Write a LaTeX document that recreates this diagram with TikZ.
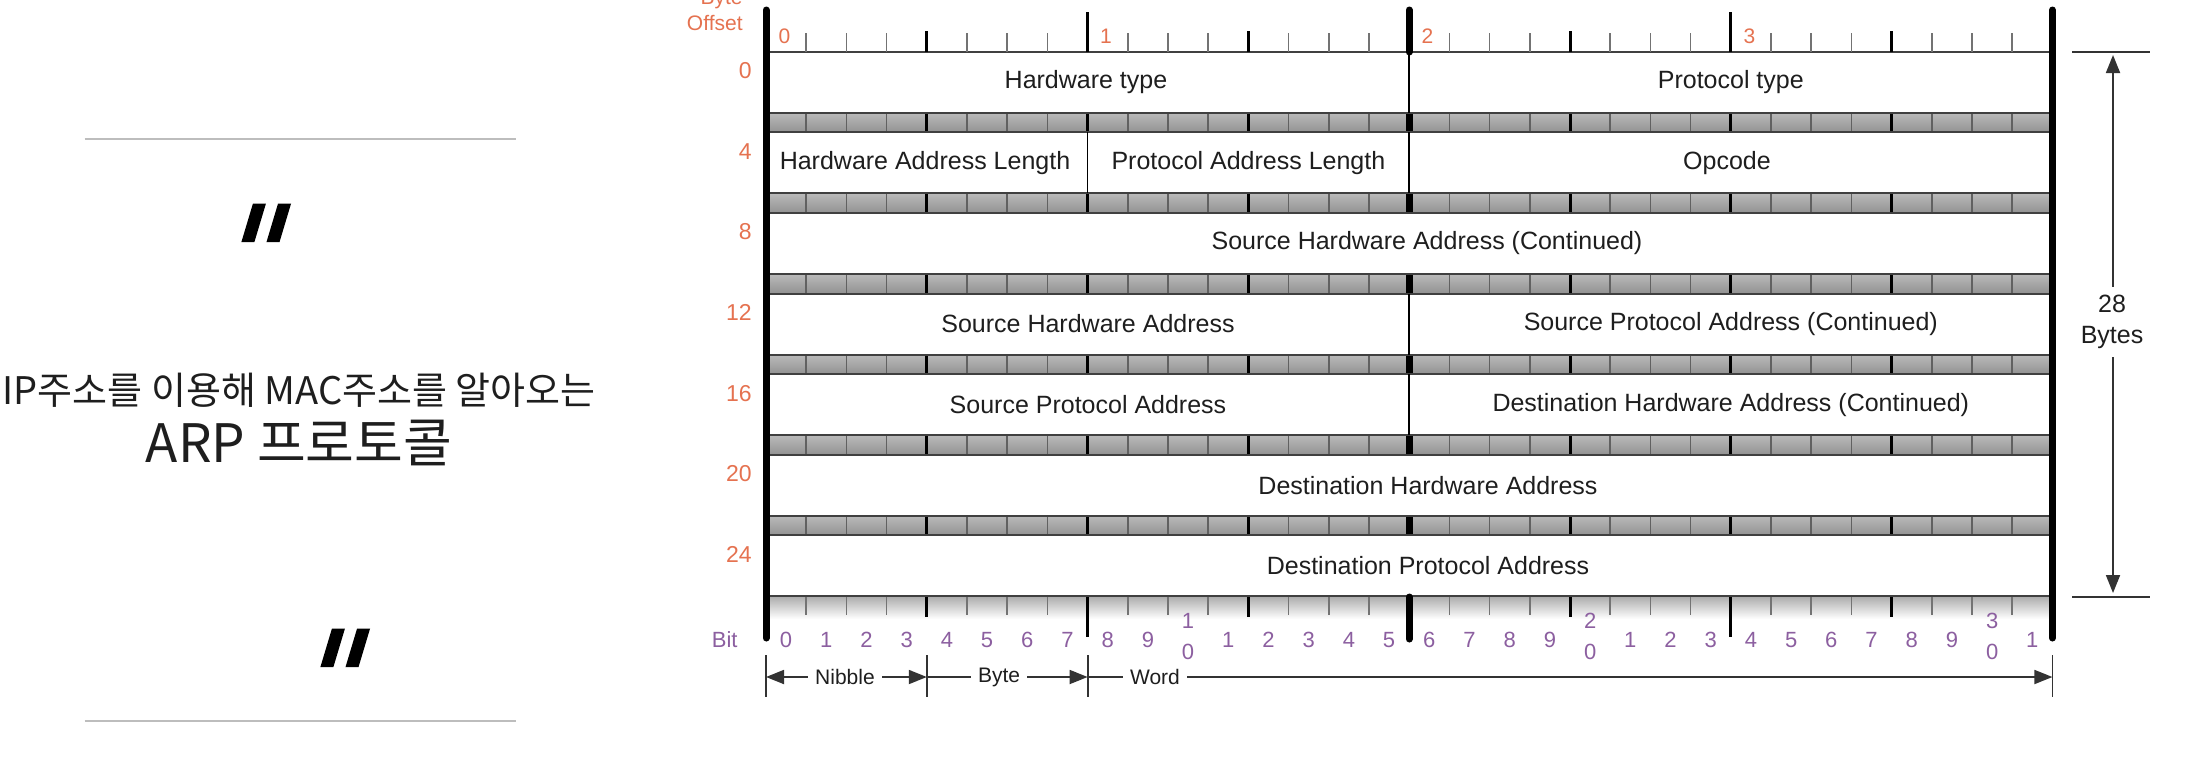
\documentclass[tikz,border=0pt]{standalone}
\usepackage{fontspec}
\setmainfont{Liberation Sans}
\newfontfamily\krfont{Noto Sans CJK KR}
\newfontfamily\qfont{DejaVu Sans}[Ligatures=TeXOff, FakeSlant=0.3, FakeBold=1.2]
\usetikzlibrary{arrows.meta}
\definecolor{offorange}{HTML}{E57250}
\definecolor{bitpurple}{HTML}{8C5FA0}
\definecolor{rulegray}{HTML}{BDBDBD}
\definecolor{bandA}{HTML}{BABABA}
\definecolor{bandB}{HTML}{D8D8D8}
\definecolor{bandC}{HTML}{929292}
\definecolor{txt}{HTML}{1E1E1E}
\begin{document}
\begin{tikzpicture}[x=0.5pt,y=-0.5pt,
  field/.style={inner sep=0pt, text=txt, font=\fontsize{12.5}{14}\selectfont},
  offnum/.style={anchor=east, inner sep=0pt, text=offorange, font=\fontsize{11.5}{13}\selectfont},
  bytenum/.style={inner sep=0pt, text=offorange, font=\fontsize{10.5}{12}\selectfont},
  bitnum/.style={inner sep=0pt, text=bitpurple, font=\fontsize{11}{12}\selectfont},
  dimtxt/.style={inner sep=3.5pt, text=txt, font=\fontsize{10.5}{12}\selectfont},
  bittick/.style={draw=black!55, line width=0.75pt},
  bandtick/.style={draw=black!62, line width=0.8pt},
  nibtick/.style={draw=black, line width=1.5pt},
  thickline/.style={draw=black, line width=3.5pt, line cap=round},
  rowline/.style={draw=black!75, line width=1pt},
  sepline/.style={draw=black, line width=0.8pt},
  dimline/.style={draw=black!80, line width=0.9pt},
  dimarrow/.style={dimline, -{Triangle[length=9pt,width=7pt]}},
  leftrule/.style={draw=rulegray, line width=1.1pt},
  quotemark/.style={inner sep=0pt, anchor=north, font=\qfont\fontsize{68}{72}\selectfont}
]
\useasboundingbox[fill=white] (0,0) rectangle (2190,756);

% ---------- left panel ----------
\draw[leftrule] (84.5,139) -- (516,139);
\draw[leftrule] (84.5,720.7) -- (516,720.7);
\node[quotemark] (q1) at (242,204) {\symbol{34}};
\node[quotemark] (q2) at (321,629) {\symbol{34}};
\node[inner sep=0pt, text=txt, font=\krfont\fontsize{19}{22}\selectfont] (kr1) at (299,390) {IP주소를 이용해 MAC주소를 알아오는};
\node[inner sep=0pt, text=txt, font=\krfont\fontsize{26.5}{30}\selectfont] (kr2) at (299,443) {ARP 프로토콜};

% ---------- bands ----------
\foreach \k in {0,...,5}{
  \pgfmathsetmacro\ba{51.7+80.6*\k+61}
  \pgfmathsetmacro\bb{51.7+80.6*(\k+1)}
  \shade[top color=bandA, middle color=bandB, bottom color=bandC] (766,\ba) rectangle (2052.4,\bb);
  \foreach \i in {1,...,31}{
    \pgfmathsetmacro\xx{766+40.2*\i}
    \pgfmathtruncatemacro\m{mod(\i,4)}
    \ifnum\m=0
      \ifnum\i=16
        \draw[draw=black, line width=3.5pt] (\xx,\ba) -- (\xx,\bb);
      \else
        \draw[nibtick] (\xx,\ba) -- (\xx,\bb);
      \fi
    \else
      \draw[bandtick] (\xx,\ba) -- (\xx,\bb);
    \fi
  }
}
% bottom fading band
\shade[top color=black!32, bottom color=white] (766,596.7) rectangle (2052.4,619);

% ---------- row borders ----------
\foreach \k in {0,...,6}{
  \pgfmathsetmacro\ta{51.7+80.6*\k}
  \pgfmathsetmacro\tb{51.7+80.6*\k+61}
  \draw[rowline] (766,\ta) -- (2052.4,\ta);
  \draw[rowline] (766,\tb) -- (2052.4,\tb);
}

% ---------- top ticks ----------
\foreach \i in {1,...,31}{
  \pgfmathsetmacro\xx{766+40.2*\i}
  \pgfmathtruncatemacro\m{mod(\i,4)}
  \pgfmathtruncatemacro\n{mod(\i,8)}
  \ifnum\m=0
    \ifnum\i=16
      \draw[thickline] (\xx,10) -- (\xx,52);
    \else
      \ifnum\n=0
        \draw[nibtick] (\xx,12) -- (\xx,52);
      \else
        \draw[nibtick] (\xx,31) -- (\xx,52);
      \fi
    \fi
  \else
    \draw[bittick] (\xx,33) -- (\xx,52);
  \fi
}
% ---------- bottom ticks ----------
\foreach \i in {1,...,31}{
  \pgfmathsetmacro\xx{766+40.2*\i}
  \pgfmathtruncatemacro\m{mod(\i,4)}
  \pgfmathtruncatemacro\n{mod(\i,8)}
  \ifnum\m=0
    \ifnum\i=16
      \draw[thickline] (\xx,597) -- (\xx,639);
    \else
      \ifnum\n=0
        \draw[nibtick] (\xx,597) -- (\xx,637);
      \else
        \draw[nibtick] (\xx,597) -- (\xx,617);
      \fi
    \fi
  \else
    \draw[bittick] (\xx,597) -- (\xx,615);
  \fi
}

% ---------- field separators ----------
\draw[sepline] (1409.2,51.7) -- (1409.2,112.7);
\draw[sepline] (1087.6,132.3) -- (1087.6,193.3);
\draw[sepline] (1409.2,132.3) -- (1409.2,193.3);
\draw[sepline] (1409.2,293.5) -- (1409.2,354.5);
\draw[sepline] (1409.2,374.1) -- (1409.2,435.1);

% ---------- outer edges ----------
\draw[thickline] (766,10) -- (766,638);
\draw[thickline] (2052.4,10) -- (2052.4,638);

% ---------- field labels ----------
\node[field] (f1) at (1086,82.2) {Hardware type};
\node[field] (f2) at (1730.8,82.2) {Protocol type};
\node[field] (f3) at (925,162.8) {Hardware Address Length};
\node[field] (f4) at (1248.4,162.8) {Protocol Address Length};
\node[field] (f5) at (1727,162.8) {Opcode};
\node[field] (f6) at (1427,243.4) {Source Hardware Address (Continued)};
\node[field] (f7) at (1088,324) {Source Hardware Address};
\node[field] (f8) at (1730.8,324) {Source Protocol Address (Continued)};
\node[field] (f9) at (1088,404.6) {Source Protocol Address};
\node[field] (f10) at (1730.8,404.6) {Destination Hardware Address (Continued)};
\node[field] (f11) at (1428,485.2) {Destination Hardware Address};
\node[field] (f12) at (1428,565.8) {Destination Protocol Address};

% ---------- byte offsets ----------
\foreach \k/\v in {0/0,1/4,2/8,3/12,4/16,5/20,6/24}{
  \pgfmathsetmacro\yy{51.7+80.6*\k+19}
  \node[offnum] (o\k) at (752,\yy) {\v};
}
\node[anchor=south east, inner sep=0pt, align=right, text=offorange,
      font=\fontsize{10.5}{13}\selectfont] (boff) at (743,31.5) {Byte\\Offset};
\node[bytenum] (by0) at (784.5,36) {0};
\node[bytenum] (by1) at (1106,36) {1};
\node[bytenum] (by2) at (1427.5,36) {2};
\node[bytenum] (by3) at (1749.5,36) {3};

% ---------- bit numbers ----------
\node[anchor=east, inner sep=0pt, text=bitpurple, font=\fontsize{11}{12}\selectfont] (bitlbl) at (738,640) {Bit};
\foreach \i in {0,...,31}{
  \pgfmathsetmacro\cx{766+40.2*(\i+0.5)}
  \pgfmathtruncatemacro\ud{mod(\i,10)}
  \pgfmathtruncatemacro\td{div(\i,10)}
  \ifnum\i>9
    \ifnum\ud=0
      \node[bitnum] (bt\i) at (\cx,621) {\td};
      \node[bitnum] (bu\i) at (\cx,652) {0};
    \else
      \node[bitnum] (b\i) at (\cx,640) {\ud};
    \fi
  \else
    \node[bitnum] (b\i) at (\cx,640) {\i};
  \fi
}

% ---------- nibble / byte / word ----------
\coordinate (v0a) at (766,655);   \coordinate (v0b) at (766,697);
\coordinate (v1a) at (926.8,655); \coordinate (v1b) at (926.8,697);
\coordinate (v2a) at (1087.6,655);\coordinate (v2b) at (1087.6,697);
\coordinate (v3a) at (2052.4,655);\coordinate (v3b) at (2052.4,697);
\draw[dimline] (v0a) -- (v0b);
\draw[dimline] (v1a) -- (v1b);
\draw[dimline] (v2a) -- (v2b);
\draw[dimline] (v3a) -- (v3b);
\coordinate (p0) at (766,677);
\coordinate (p1) at (926.8,677);
\coordinate (p2) at (1087.6,677);
\coordinate (p3) at (2052.4,677);
\node[dimtxt] (nib) at (845,677) {Nibble};
\node[dimtxt] (byt) at (999,677) {Byte};
\node[dimtxt] (wrd) at (1155,677) {Word};
\draw[dimarrow] (nib.west) -- (p0);
\draw[dimarrow] (nib.east) -- (p1);
\draw[dimline] (p1) -- (byt.west);
\draw[dimarrow] (byt.east) -- (p2);
\draw[dimline] (p2) -- (wrd.west);
\draw[dimarrow] (wrd.east) -- (p3);

% ---------- 28 bytes dimension ----------
\coordinate (h1a) at (2072,51.7); \coordinate (h1b) at (2150,51.7);
\coordinate (h2a) at (2072,596.7);\coordinate (h2b) at (2150,596.7);
\draw[dimline] (h1a) -- (h1b);
\draw[dimline] (h2a) -- (h2b);
\coordinate (dtop) at (2113,55);
\coordinate (dbot) at (2113,593);
\node[inner sep=0pt, align=center, text=txt, font=\fontsize{12.5}{15.5}\selectfont] (tot) at (2112,322) {28\\Bytes};
\draw[dimarrow] ([yshift=4pt]tot.north -| dtop) -- (dtop);
\draw[dimarrow] ([yshift=-4pt]tot.south -| dbot) -- (dbot);
\end{tikzpicture}
\end{document}
